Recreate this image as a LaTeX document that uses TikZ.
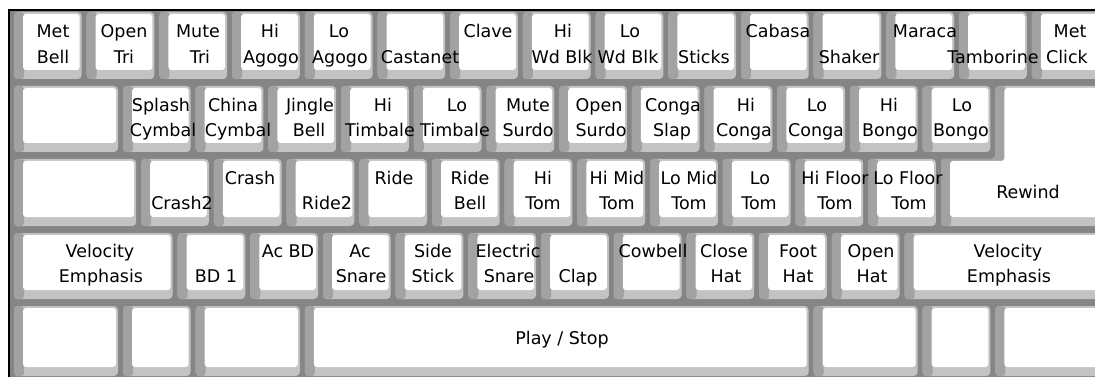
\documentclass[tikz,border=0pt]{standalone}
\usepackage{fontspec}
\setmainfont{DejaVu Sans}
\definecolor{gapgray}{HTML}{858585}
\definecolor{bevlight}{HTML}{C3C3C3}
\definecolor{bevdark}{HTML}{A2A2A2}
\newcommand\keycap[4]{%
  \fill[bevlight,rounded corners=4pt] ({#1+5},{#2+1}) rectangle ({#3},{#4-6});
  \fill[bevdark,rounded corners=3pt] ({#1+5},{#2+1}) rectangle ({#1+15},{#4-6});
  \fill[white,rounded corners=3pt] ({#1+14},{#2+3}) rectangle ({#3-2},{#4-15});
}
\tikzset{lbl/.style={anchor=base,inner sep=0pt,text=black,font=\fontsize{17.5}{21}\selectfont}}
\begin{document}
\begin{tikzpicture}[x=1pt,y=-1pt]
\useasboundingbox (0,0) rectangle (1095,377);
\clip (0,0) rectangle (1095,377);
\fill[white] (0,0) rectangle (1095,377);
\fill[gapgray] (9,10) rectangle (1095,377);
\draw[black,line width=2pt] (9,377) -- (9,10.3) -- (1095,10.3);
% row 1
\foreach \i in {0,...,14} {\keycap{9+\i*72.7}{11}{81.7+\i*72.7}{85}}
% row 2
\keycap{9}{85}{118}{158}
\foreach \i in {0,...,11} {\keycap{118+\i*72.7}{85}{190.7+\i*72.7}{158}}
% L-shaped enter key (rows 2-3)
\fill[bevlight,rounded corners=4pt] (995.4,86) -- (1102,86) -- (1102,226) -- (941,226) -- (941,159) -- (995.4,159) -- cycle;
\fill[bevdark,rounded corners=3pt] (995.4,86) -- (1005.4,86) -- (1005.4,161) -- (951,161) -- (951,226) -- (941,226) -- (941,159) -- (995.4,159) -- cycle;
\fill[white,rounded corners=3pt] (1004.4,88) -- (1102,88) -- (1102,217) -- (950,217) -- (950,161) -- (1004.4,161) -- cycle;
% row 3
\keycap{9}{158}{136.2}{232}
\foreach \i in {0,...,10} {\keycap{136.2+\i*72.7}{158}{208.9+\i*72.7}{232}}
% row 4
\keycap{9}{232}{172.6}{305}
\foreach \i in {0,...,9} {\keycap{172.6+\i*72.7}{232}{245.3+\i*72.7}{305}}
\keycap{899.6}{232}{1102}{305}
% row 5
\keycap{9}{305}{118}{382}
\keycap{118}{305}{190.7}{382}
\keycap{190.7}{305}{299.8}{382}
\keycap{299.8}{305}{808.7}{382}
\keycap{808.7}{305}{917.7}{382}
\keycap{917.7}{305}{990.4}{382}
\keycap{990.4}{305}{1102}{382}
% labels row 1
\node[lbl] (a1) at (53,38) {Met};      \node[lbl] (a1b) at (53,64) {Bell};
\node[lbl] (a2) at (124,38) {Open};    \node[lbl] (a2b) at (124,64) {Tri};
\node[lbl] (a3) at (198,38) {Mute};    \node[lbl] (a3b) at (200,64) {Tri};
\node[lbl] (a4) at (270,38) {Hi};      \node[lbl] (a4b) at (271,64) {Agogo};
\node[lbl] (a5) at (339,38) {Lo};      \node[lbl] (a5b) at (340,64) {Agogo};
\node[lbl] (a6b) at (420,64) {Castanet};
\node[lbl] (a7) at (488,38) {Clave};
\node[lbl] (a8) at (563,38) {Hi};      \node[lbl] (a8b) at (562,64) {Wd Blk};
\node[lbl] (a9) at (630,38) {Lo};      \node[lbl] (a9b) at (628,64) {Wd Blk};
\node[lbl] (a10b) at (704,64) {Sticks};
\node[lbl] (a11) at (778,38) {Cabasa};
\node[lbl] (a12b) at (849,64) {Shaker};
\node[lbl] (a13) at (925,38) {Maraca};
\node[lbl] (a14b) at (993,64) {Tamborine};
\node[lbl] (a15) at (1070,38) {Met};   \node[lbl] (a15b) at (1067,64) {Click};
% labels row 2
\node[lbl] (b1) at (161,112) {Splash}; \node[lbl] (b1b) at (163,137) {Cymbal};
\node[lbl] (b2) at (233,112) {China};  \node[lbl] (b2b) at (238,137) {Cymbal};
\node[lbl] (b3) at (310,112) {Jingle}; \node[lbl] (b3b) at (309,137) {Bell};
\node[lbl] (b4) at (383,112) {Hi};     \node[lbl] (b4b) at (380,137) {Timbale};
\node[lbl] (b5) at (457,112) {Lo};     \node[lbl] (b5b) at (455,137) {Timbale};
\node[lbl] (b6) at (528,112) {Mute};   \node[lbl] (b6b) at (528,137) {Surdo};
\node[lbl] (b7) at (599,112) {Open};   \node[lbl] (b7b) at (601,137) {Surdo};
\node[lbl] (b8) at (673,112) {Conga};  \node[lbl] (b8b) at (672,137) {Slap};
\node[lbl] (b9) at (746,112) {Hi};     \node[lbl] (b9b) at (744,137) {Conga};
\node[lbl] (b10) at (817,112) {Lo};    \node[lbl] (b10b) at (816,137) {Conga};
\node[lbl] (b11) at (889,112) {Hi};    \node[lbl] (b11b) at (890,137) {Bongo};
\node[lbl] (b12) at (962,112) {Lo};    \node[lbl] (b12b) at (961,137) {Bongo};
% labels row 3
\node[lbl] (c1b) at (182,209) {Crash2};
\node[lbl] (c2) at (250,184) {Crash};
\node[lbl] (c3b) at (327,209) {Ride2};
\node[lbl] (c4) at (394,184) {Ride};
\node[lbl] (c5) at (470,184) {Ride};     \node[lbl] (c5b) at (470,209) {Bell};
\node[lbl] (c6) at (543,184) {Hi};       \node[lbl] (c6b) at (543,209) {Tom};
\node[lbl] (c7) at (617,184) {Hi Mid};   \node[lbl] (c7b) at (617,209) {Tom};
\node[lbl] (c8) at (689,184) {Lo Mid};   \node[lbl] (c8b) at (689,209) {Tom};
\node[lbl] (c9) at (760,184) {Lo};       \node[lbl] (c9b) at (759,209) {Tom};
\node[lbl] (c10) at (835,184) {Hi Floor};\node[lbl] (c10b) at (835,209) {Tom};
\node[lbl] (c11) at (908,184) {Lo Floor};\node[lbl] (c11b) at (909,209) {Tom};
\node[lbl] (c12) at (1028,198) {Rewind};
% labels row 4
\node[lbl] (d0) at (100,257) {Velocity}; \node[lbl] (d0b) at (101,282) {Emphasis};
\node[lbl] (d1b) at (216,282) {BD 1};
\node[lbl] (d2) at (288,257) {Ac BD};
\node[lbl] (d3) at (360,257) {Ac};       \node[lbl] (d3b) at (361,282) {Snare};
\node[lbl] (d4) at (433,257) {Side};     \node[lbl] (d4b) at (433,282) {Stick};
\node[lbl] (d5) at (508,257) {Electric}; \node[lbl] (d5b) at (509,282) {Snare};
\node[lbl] (d6b) at (578,282) {Clap};
\node[lbl] (d7) at (653,257) {Cowbell};
\node[lbl] (d8) at (724,257) {Close};    \node[lbl] (d8b) at (726,282) {Hat};
\node[lbl] (d9) at (798,257) {Foot};     \node[lbl] (d9b) at (798,282) {Hat};
\node[lbl] (d10) at (871,257) {Open};    \node[lbl] (d10b) at (872,282) {Hat};
\node[lbl] (d11) at (1008,257) {Velocity};\node[lbl] (d11b) at (1009,282) {Emphasis};
% row 5
\node[lbl] (e1) at (562,344) {Play / Stop};
\end{tikzpicture}
\end{document}
